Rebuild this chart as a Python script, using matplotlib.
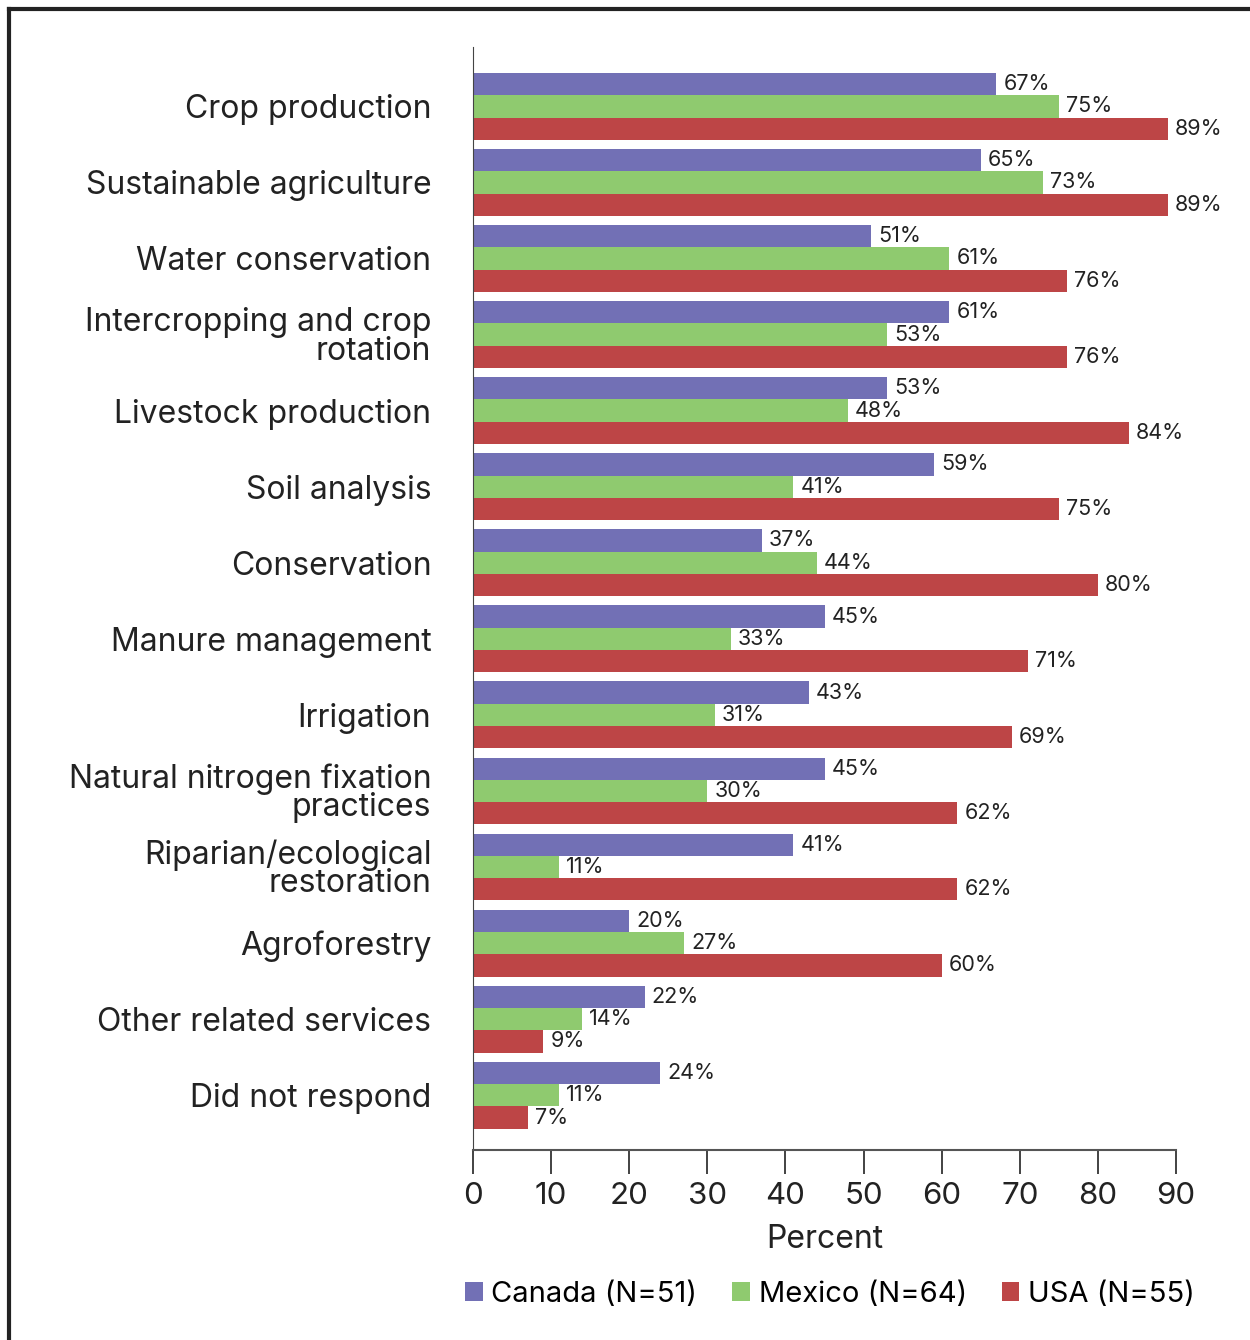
import numpy as np
import matplotlib.pyplot as plt
from matplotlib.lines import Line2D

categories = ["Crop production", "Sustainable agriculture", "Water conservation",
              "Intercropping and crop\nrotation", "Livestock production", "Soil analysis",
              "Conservation", "Manure management", "Irrigation",
              "Natural nitrogen fixation\npractices", "Riparian/ecological\nrestoration",
              "Agroforestry", "Other related services", "Did not respond"]
canada = [67, 65, 51, 61, 53, 59, 37, 45, 43, 45, 41, 20, 22, 24]
mexico = [75, 73, 61, 53, 48, 41, 44, 33, 31, 30, 11, 27, 14, 11]
usa = [89, 89, 76, 76, 84, 75, 80, 71, 69, 62, 62, 60, 9, 7]
series_names = ["Canada (N=51)", "Mexico (N=64)", "USA (N=55)"]
colors = ["#7270B5", "#8FCA6F", "#BD4546"]
xticks = [0, 10, 20, 30, 40, 50, 60, 70, 80, 90]

plt.rcParams['font.family'] = ['Inter', 'DejaVu Sans']

fig = plt.figure(figsize=(12.5, 13.4), dpi=100)
ax = fig.add_axes([0.3784, 0.1418, 0.5624, 0.8231])

y = np.arange(len(categories))
h = 0.293
for k, (vals, c, name) in enumerate(zip([canada, mexico, usa], colors, series_names)):
    pos = y + (k - 1) * h
    ax.barh(pos, vals, height=h, color=c, label=name)
    for p, v in zip(pos, vals):
        ax.text(v + 0.9, p, f"{v}%", va='center', ha='left', fontsize=15.5, color='#222222')

ax.set_ylim(13.72, -0.78)
ax.set_xlim(0, 90)
ax.set_yticks(y)
ax.set_yticklabels(categories, fontsize=23, linespacing=0.9, color='#222222')
ax.tick_params(axis='y', length=0, pad=30)
ax.set_xticks(xticks)
ax.tick_params(axis='x', length=17, width=1.2, labelsize=22.5, pad=6, colors='#222222')
ax.set_xlabel("Percent", fontsize=23, labelpad=10, color='#222222')
for s in ['top', 'right']:
    ax.spines[s].set_visible(False)
ax.spines['left'].set_color('#444444')
ax.spines['bottom'].set_color('#555555')
ax.spines['bottom'].set_linewidth(1.5)

leg = fig.legend(loc='center', bbox_to_anchor=(0.664, 0.034), ncol=3, frameon=False,
                 fontsize=21, handlelength=0.6, handleheight=0.6, handletextpad=0.3,
                 columnspacing=1.2)

# frame around the figure (top and left edges only visible)
fig.add_artist(Line2D([0.0075, 1.0], [0.9933, 0.9933], color='#222222', lw=3, transform=fig.transFigure))
fig.add_artist(Line2D([0.0075, 0.0075], [0.0, 0.9933], color='#222222', lw=3, transform=fig.transFigure))

fig.savefig("out.png", dpi=100)
